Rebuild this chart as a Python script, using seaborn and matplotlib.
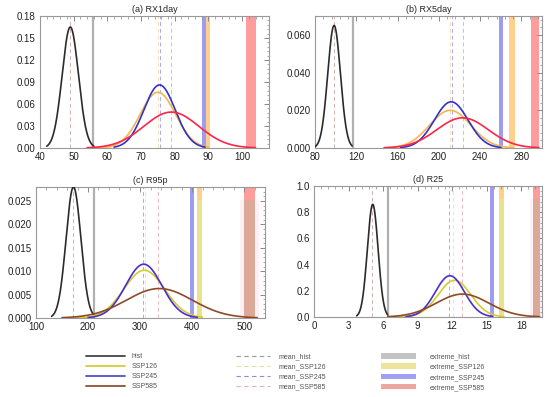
import numpy as np
import pandas as pd
import matplotlib
matplotlib.use("Agg")
import matplotlib.pyplot as plt
import seaborn as sns
from matplotlib.lines import Line2D
from matplotlib.patches import Patch
from matplotlib.ticker import MultipleLocator, AutoMinorLocator, FormatStrFormatter

sns.set_theme(style="white")
plt.rcParams["font.family"] = ["Liberation Sans", "DejaVu Sans"]

series = ["hist", "SSP126", "SSP245", "SSP585"]
titles = ["(a) RX1day", "(b) RX5day", "(c) R95p", "(d) R25"]

# fitted normal distributions: mean, peak density, x-range
a_mean = [49.0, 75.0, 75.5, 79.0]
a_peak = [0.165, 0.076, 0.086, 0.049]
a_xmin = [42.0, 57.0, 62.0, 54.0]
a_xmax = [56.0, 90.0, 89.0, 104.0]
b_mean = [98.5, 211.0, 212.0, 223.0]
b_peak = [0.065, 0.020, 0.0245, 0.016]
b_xmin = [80.0, 150.0, 163.0, 147.0]
b_xmax = [116.0, 272.0, 260.0, 297.0]
c_mean = [172.0, 308.0, 307.0, 337.0]
c_peak = [0.028, 0.0102, 0.0115, 0.0063]
c_xmin = [130.0, 170.0, 200.0, 150.0]
c_xmax = [212.0, 420.0, 410.0, 525.0]
d_mean = [5.1, 12.2, 11.8, 12.9]
d_peak = [0.86, 0.28, 0.315, 0.175]
d_xmin = [3.7, 7.0, 8.0, 6.4]
d_xmax = [6.4, 16.5, 15.5, 19.6]

# mean lines (hist, SSP126, SSP245, SSP585)
a_meanline = [48.8, 75.0, 75.5, 79.0]
b_meanline = [98.5, 211.0, 213.0, 223.0]
c_meanline = [171.0, 310.0, 305.0, 334.0]
d_meanline = [5.05, 12.1, 11.75, 12.85]

# extremes: hist line, then bands (SSP126, SSP245, SSP585)
a_ext_hist = 55.8
a_ext_lo = [89.3, 88.1, 101.3]
a_ext_hi = [90.6, 89.3, 104.0]
b_ext_hist = 116.5
b_ext_lo = [268.0, 258.0, 289.5]
b_ext_hi = [273.5, 262.0, 297.0]
c_ext_hist = 211.0
c_ext_lo = [409.0, 395.0, 500.0]
c_ext_hi = [419.0, 404.0, 521.0]
d_ext_hist = 6.4
d_ext_lo = [16.1, 15.3, 19.0]
d_ext_hi = [16.5, 15.6, 19.65]

panels = [
    dict(mean=a_mean, peak=a_peak, xmin=a_xmin, xmax=a_xmax, ml=a_meanline,
         eh=a_ext_hist, elo=a_ext_lo, ehi=a_ext_hi,
         xlim=(40, 108), xmaj=10, ylim=(0, 0.18), ymaj=0.03, yfmt="%.2f", warm=True),
    dict(mean=b_mean, peak=b_peak, xmin=b_xmin, xmax=b_xmax, ml=b_meanline,
         eh=b_ext_hist, elo=b_ext_lo, ehi=b_ext_hi,
         xlim=(80, 300), xmaj=40, ylim=(0, 0.07), ymaj=0.02, yfmt="%.3f", warm=True),
    dict(mean=c_mean, peak=c_peak, xmin=c_xmin, xmax=c_xmax, ml=c_meanline,
         eh=c_ext_hist, elo=c_ext_lo, ehi=c_ext_hi,
         xlim=(100, 540), xmaj=100, ylim=(0, 0.028), ymaj=0.005, yfmt="%.3f", warm=False),
    dict(mean=d_mean, peak=d_peak, xmin=d_xmin, xmax=d_xmax, ml=d_meanline,
         eh=d_ext_hist, elo=d_ext_lo, ehi=d_ext_hi,
         xlim=(0, 19.8), xmaj=3, ylim=(0, 1.0), ymaj=0.2, yfmt="%.1f", warm=False),
]

pal_warm = {"hist": "#2b2b2b", "SSP126": "#f7b54e", "SSP245": "#3232c8", "SSP585": "#ff2448"}
pal_cool = {"hist": "#2b2b2b", "SSP126": "#d6cc30", "SSP245": "#4a2ed0", "SSP585": "#8e4a24"}
mean_warm = ["#cfb0b0", "#f8dcb4", "#aaaaf2", "#f6b0b0"]
mean_cool = ["#cfb0b0", "#ece8b0", "#aaaaf2", "#f2baba"]

boxes = [(40, 16, 229, 132), (315, 16, 227, 132), (36, 187, 229, 131), (314, 186, 228, 131)]
W, H = 550, 397
fig = plt.figure(figsize=(5.5, 3.97), dpi=100)

for k, (p, box) in enumerate(zip(panels, boxes)):
    l, t, w, h = box
    ax = fig.add_axes([l / W, 1 - (t + h) / H, w / W, h / H])
    rows = []
    for i, s in enumerate(series):
        sd = 1.0 / (p["peak"][i] * np.sqrt(2 * np.pi))
        x = np.linspace(p["xmin"][i], p["xmax"][i], 300)
        y = p["peak"][i] * np.exp(-0.5 * ((x - p["mean"][i]) / sd) ** 2)
        rows.append(pd.DataFrame({"x": x, "density": y, "series": s}))
    df = pd.concat(rows, ignore_index=True)

    pal = pal_warm if p["warm"] else pal_cool
    mcols = mean_warm if p["warm"] else mean_cool

    # extremes
    ax.axvline(p["eh"], color="#b0b0b0", lw=1.6, zorder=1)
    if p["warm"]:
        band_cols = ["#ffd08c", "#9c9cf2", "#ff9c9c"]
        for j in range(3):
            ax.axvspan(p["elo"][j], p["ehi"][j], color=band_cols[j], lw=0, zorder=0.5)
    else:
        wid = p["ehi"][2] - p["elo"][2]
        ax.axvspan(p["elo"][2] - 0.4 * wid, p["ehi"][2] + 0.4 * wid, ymax=0.9,
                   color="#fdf1f7", lw=0, zorder=0.2)
        ax.axvspan(p["elo"][0], p["ehi"][0], color="#ffd08c", lw=0, zorder=0.5)
        ax.axvspan(p["elo"][0], p["ehi"][0], ymax=0.9, color="#e9e38e", lw=0, zorder=0.6)
        ax.axvspan(p["elo"][1], p["ehi"][1], color="#9c9cf2", lw=0, zorder=0.5)
        ax.axvspan(p["elo"][2], p["ehi"][2], color="#ff9c9c", lw=0, zorder=0.5)
        ax.axvspan(p["elo"][2], p["ehi"][2], ymax=0.9, color="#dca898", lw=0, zorder=0.6)

    # mean lines
    for j in range(4):
        ax.axvline(p["ml"][j], color=mcols[j], lw=0.7, ls=(0, (4, 3)), zorder=1.5)

    sns.lineplot(data=df, x="x", y="density", hue="series", palette=pal,
                 hue_order=series, ax=ax, lw=1.2, legend=False, zorder=3, sort=False,
                 estimator=None, units="series")

    ax.set_xlim(*p["xlim"])
    ax.set_ylim(*p["ylim"])
    ax.set_xlabel("")
    ax.set_ylabel("")
    ax.set_title(titles[k], fontsize=6.5, pad=3)
    ax.xaxis.set_major_locator(MultipleLocator(p["xmaj"]))
    ax.xaxis.set_minor_locator(AutoMinorLocator(5))
    ax.yaxis.set_major_locator(MultipleLocator(p["ymaj"]))
    ax.yaxis.set_minor_locator(AutoMinorLocator(5))
    ax.yaxis.set_major_formatter(FormatStrFormatter(p["yfmt"]))
    ax.xaxis.set_major_formatter(FormatStrFormatter("%d"))
    ax.tick_params(which="both", direction="in", top=True, right=True,
                   colors="#888888", labelcolor="#222222", labelsize=7, pad=3)
    ax.tick_params(which="major", length=3.5, width=0.7)
    ax.tick_params(which="minor", length=1.8, width=0.5)
    for sp in ax.spines.values():
        sp.set_color("#999999")
        sp.set_linewidth(0.8)

# legends
fs = 5
common = dict(frameon=False, fontsize=fs, loc="upper left", borderpad=0,
              borderaxespad=0, labelspacing=0.45, labelcolor="#555555")
h1 = [Line2D([], [], color=c, lw=1.3) for c in ["#444444", "#d8cc3a", "#5050c8", "#8b5535"]]
fig.legend(h1, series, bbox_to_anchor=(86 / W, 1 - 353 / H), handlelength=5.6,
           handletextpad=1.0, **common)
h2 = [Line2D([], [], color=c, lw=0.8, ls=(0, (4, 3)))
      for c in ["#9a9a9a", "#e6e0a0", "#8c8ce6", "#e4b4b4"]]
fig.legend(h2, ["mean_hist", "mean_SSP126", "mean_SSP245", "mean_SSP585"],
           bbox_to_anchor=(236 / W, 1 - 353 / H), handlelength=4.9,
           handletextpad=1.2, **common)
h3 = [Patch(facecolor=c, edgecolor="none") for c in ["#c4c4c4", "#ece49a", "#a0a0f5", "#eea6a0"]]
fig.legend(h3, ["extreme_hist", "extreme_SSP126", "extreme_SSP245", "extreme_SSP585"],
           bbox_to_anchor=(381 / W, 1 - 353 / H), handlelength=5.0, handleheight=0.85,
           handletextpad=2.0, **common)

fig.savefig("out.png", dpi=100)
